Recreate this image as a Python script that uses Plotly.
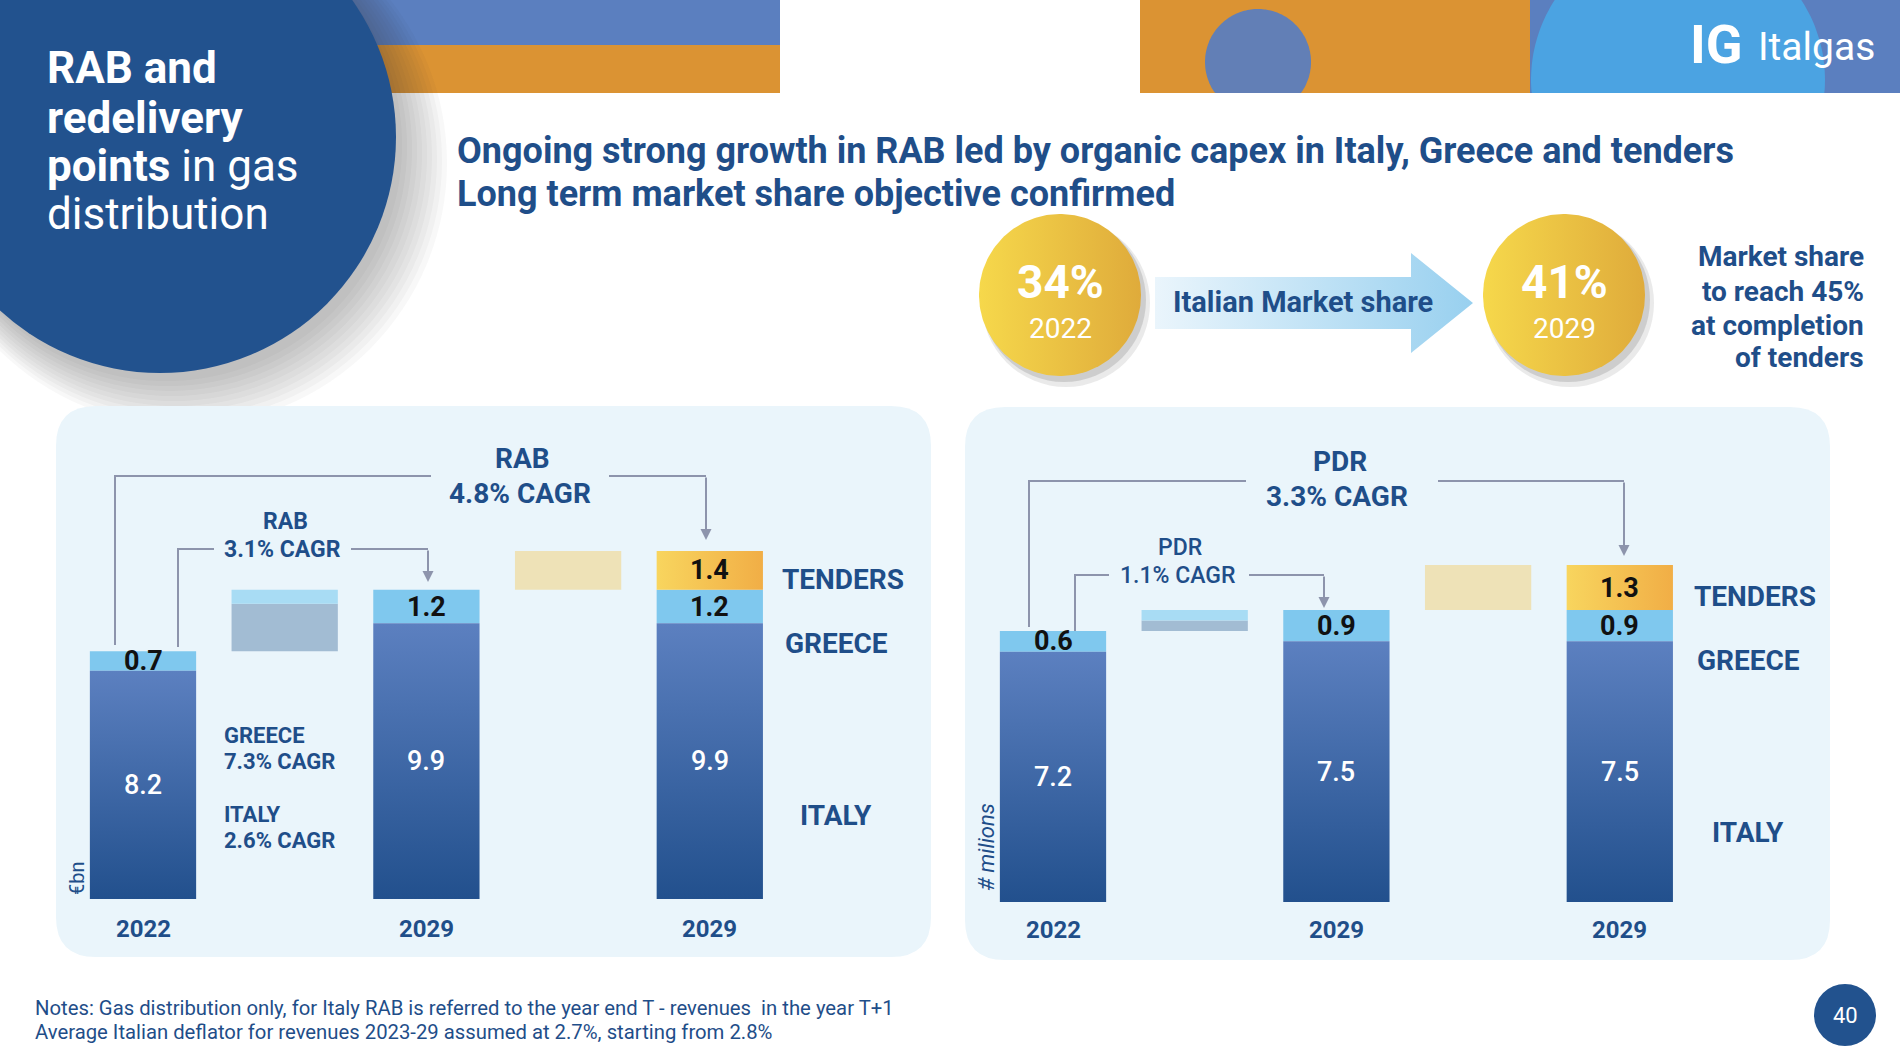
import numpy as np
import plotly.graph_objects as go

W, H = 1900, 1064
FONT = "Roboto"
NAVY = "#22528E"
TXT = "#1F4E89"
GREY = "#8D94AC"

# ---------------- data ----------------
categories = ["2022", "2029", "2029"]
rab_italy = [8.2, 9.9, 9.9]
rab_greece = [0.7, 1.2, 1.2]
rab_tenders = [0.0, 0.0, 1.4]
pdr_italy = [7.2, 7.5, 7.5]
pdr_greece = [0.6, 0.9, 0.9]
pdr_tenders = [0.0, 0.0, 1.3]
segment_names = ["TENDERS", "GREECE", "ITALY"]
share_values = ["34%", "41%"]
share_years = ["2022", "2029"]
rab_cagr = ["RAB", "4.8% CAGR", "RAB", "3.1% CAGR"]
pdr_cagr = ["PDR", "3.3% CAGR", "PDR", "1.1% CAGR"]
rab_side_notes = ["GREECE", "7.3% CAGR", "ITALY", "2.6% CAGR"]

fig = go.Figure()
shapes = []
ann = []


def rect(x0, y0, x1, y1, color):
    shapes.append(dict(type="rect", xref="x", yref="y", x0=x0, y0=y0, x1=x1, y1=y1,
                       fillcolor=color, line=dict(width=0), layer="below"))


def circ(cx, cy, r, color):
    shapes.append(dict(type="circle", xref="x", yref="y", x0=cx - r, x1=cx + r, y0=cy - r, y1=cy + r,
                       fillcolor=color, line=dict(width=0), layer="below"))


def poly_path(xs, ys):
    return "M " + " L ".join(f"{x:.1f},{y:.1f}" for x, y in zip(xs, ys)) + " Z"


def path(p, fill, lw=0, lc="rgba(0,0,0,0)"):
    shapes.append(dict(type="path", xref="x", yref="y", path=p, fillcolor=fill,
                       line=dict(width=lw, color=lc), layer="below"))


def rounded_rect(x0, y0, x1, y1, r):
    return (f"M {x0+r},{y0} L {x1-r},{y0} Q {x1},{y0} {x1},{y0+r} L {x1},{y1-r} Q {x1},{y1} {x1-r},{y1} "
            f"L {x0+r},{y1} Q {x0},{y1} {x0},{y1-r} L {x0},{y0+r} Q {x0},{y0} {x0+r},{y0} Z")


def text(x, y, s, size, color=TXT, bold=False, xanchor="center", ref=("x", "y"), angle=0, weight=None):
    f = dict(family=FONT, size=size, color=color)
    if weight is not None:
        f["weight"] = weight
    elif bold:
        f["weight"] = 700
    ann.append(dict(x=x, y=y, xref=ref[0], yref=ref[1], text=s, showarrow=False, font=f,
                    xanchor=xanchor, yanchor="middle", textangle=angle, align="left"))


# ---------------- header decorations ----------------
rect(300, 0, 780, 45, "#5B7FBF")
rect(300, 45, 780, 93, "#DB9333")
rect(1140, 0, 1530, 93, "#DB9333")
t = np.linspace(0, 2 * np.pi, 200)
cx_, cy_ = 1258 + 53 * np.cos(t), 62 + 53 * np.sin(t)
path(poly_path(cx_, np.minimum(cy_, 93)), "#627FB6")
rect(1530, 0, 1900, 93, "#5B7FBF")
bx, by = 1678 + 147 * np.cos(t), 80 + 147 * np.sin(t)
path(poly_path(np.maximum(bx, 1530), np.clip(by, -5, 93)), "#4BA3E2")

# title circle with soft shadow
for i in range(10):
    circ(166 + 2 * i, 145 + 2 * i, 236 + 3 * i, "rgba(60,60,60,0.035)")
circ(160, 137, 236, NAVY)

# panels
path(rounded_rect(56, 406, 931, 957, 40), "#EAF5FB")
path(rounded_rect(965, 407, 1830, 960, 40), "#EAF5FB")

# gold circle shadows
for cx in (1060, 1564):
    circ(cx + 6, 303, 84, "rgba(80,80,80,0.12)")
    circ(cx + 4, 300, 82, "rgba(80,80,80,0.18)")

# page number circle
circ(1845, 1015, 31, NAVY)

# brackets
for p in ["M 115,645 L 115,476 L 431,476", "M 609,476 L 706,476",
          "M 178,647 L 178,549 L 214,549", "M 351,549 L 428,549",
          "M 1029,627 L 1029,481 L 1246,481", "M 1438,481 L 1624,481",
          "M 1075,632 L 1075,575 L 1109,575", "M 1249,575 L 1324,575"]:
    path(p, "rgba(0,0,0,0)", 2, GREY)
for (xx, y0, y1) in [(706, 476, 540), (428, 549, 582), (1624, 481, 556), (1324, 575, 608)]:
    ann.append(dict(x=xx, y=y1, xref="x", yref="y", ax=0, ay=-(y1 - y0), text="", showarrow=True,
                    arrowhead=2, arrowsize=1.1, arrowwidth=2, arrowcolor=GREY))

# gold circles (gradient) and arrow on page axis
for cx in (1060, 1564):
    xs, ys = cx + 81 * np.cos(t), 295 + 81 * np.sin(t)
    fig.add_trace(go.Scatter(x=xs, y=ys, mode="lines", fill="toself", line=dict(width=0),
                             fillgradient=dict(type="horizontal", colorscale=[[0, "#F6D84B"], [1, "#DFAB3B"]]),
                             hoverinfo="skip", showlegend=False, xaxis="x", yaxis="y"))
ax_ = [1155, 1411, 1411, 1473, 1411, 1411, 1155, 1155]
ay_ = [277, 277, 253, 303, 353, 329, 329, 277]
fig.add_trace(go.Scatter(x=ax_, y=ay_, mode="lines", fill="toself", line=dict(width=0),
                         fillgradient=dict(type="horizontal", colorscale=[[0, "#EAF5FC"], [1, "#98D0EF"]]),
                         hoverinfo="skip", showlegend=False, xaxis="x", yaxis="y"))


# ---------------- charts ----------------
def add_chart(xa, ya, italy, greece, tenders, label_y):
    pos = [0, 2, 4]
    bw = 0.75
    for p, v in zip(pos, italy):
        fig.add_trace(go.Scatter(x=[p - bw / 2, p + bw / 2, p + bw / 2, p - bw / 2, p - bw / 2],
                                 y=[0, 0, v, v, 0], mode="lines", fill="toself", line=dict(width=0),
                                 fillgradient=dict(type="vertical", colorscale=[[0, "#22508D"], [1, "#5C80C0"]]),
                                 hoverinfo="skip", showlegend=False, xaxis=xa, yaxis=ya))
    fig.add_trace(go.Bar(x=pos, y=greece, base=italy, width=bw, marker=dict(color="#7FC8EE", line=dict(width=0)),
                         hoverinfo="skip", showlegend=False, xaxis=xa, yaxis=ya))
    b = italy[2] + greece[2]
    fig.add_trace(go.Scatter(x=[4 - bw / 2, 4 + bw / 2, 4 + bw / 2, 4 - bw / 2, 4 - bw / 2],
                             y=[b, b, b + tenders[2], b + tenders[2], b], mode="lines", fill="toself",
                             line=dict(width=0),
                             fillgradient=dict(type="horizontal", colorscale=[[0, "#F8D55E"], [1, "#F1AE46"]]),
                             hoverinfo="skip", showlegend=False, xaxis=xa, yaxis=ya))
    # bridges
    fig.add_trace(go.Bar(x=[1], y=[italy[1] - italy[0]], base=[italy[0] + greece[0]], width=bw,
                         marker=dict(color="#A2BCD3", line=dict(width=0)), hoverinfo="skip", showlegend=False,
                         xaxis=xa, yaxis=ya))
    fig.add_trace(go.Bar(x=[1], y=[greece[1] - greece[0]], base=[italy[1] + greece[0]], width=bw,
                         marker=dict(color="#A8DCF4", line=dict(width=0)), hoverinfo="skip", showlegend=False,
                         xaxis=xa, yaxis=ya))
    fig.add_trace(go.Bar(x=[3], y=[tenders[2]], base=[italy[1] + greece[1]], width=bw,
                         marker=dict(color="#EEE2B7", line=dict(width=0)), hoverinfo="skip", showlegend=False,
                         xaxis=xa, yaxis=ya))
    # value labels
    for p, v, g, tt in zip(pos, italy, greece, tenders):
        text(p, v / 2, f"{v:.1f}", 27, "white", ref=(xa, ya), weight=500)
        text(p, v + g / 2, f"{g:.1f}", 27, "#111111", bold=True, ref=(xa, ya))
        if tt > 0:
            text(p, v + g + tt / 2, f"{tt:.1f}", 27, "#111111", bold=True, ref=(xa, ya))
    for p, c in zip(pos, categories):
        ann.append(dict(x=p, y=label_y, xref=xa, yref="y", text=c, showarrow=False,
                        font=dict(family=FONT, size=24, color=TXT, weight=700), yanchor="middle"))


add_chart("x2", "y2", rab_italy, rab_greece, rab_tenders, 929)
add_chart("x3", "y3", pdr_italy, pdr_greece, pdr_tenders, 930)

# ---------------- texts ----------------
text(45, 68, "RAB and", 44, "white", bold=True, xanchor="left")
text(45, 118, "redelivery", 44, "white", bold=True, xanchor="left")
text(45, 166, "<b>points</b> in gas", 44, "white", xanchor="left")
text(45, 214, "distribution", 44, "white", xanchor="left")

text(455, 151, "Ongoing strong growth in RAB led by organic capex in Italy, Greece and tenders", 36,
     bold=True, xanchor="left")
text(455, 194, "Long term market share objective confirmed", 36, bold=True, xanchor="left")

for cx, v, yr in zip((1060, 1564), share_values, share_years):
    text(cx, 282, v, 46, "white", bold=True)
    text(cx, 328, yr, 28, "white")
text(1303, 302, "Italian Market share", 29, bold=True)
for yy, s in zip((256, 291, 325, 357), ["Market share", "to reach 45%", "at completion", "of tenders"]):
    text(1866, yy, s, 28, bold=True, xanchor="right")

# logo
text(1688, 44, "IG", 54, "white", bold=True, xanchor="left")
text(1756, 47, "Italgas", 39, "white", xanchor="left")

# left chart texts
text(522, 458, rab_cagr[0], 28, bold=True)
text(520, 493, rab_cagr[1], 28, bold=True)
text(285, 521, rab_cagr[2], 23, bold=True)
text(282, 549, rab_cagr[3], 23, bold=True)
for yy, s in zip((735, 761, 814, 840), rab_side_notes):
    text(222, yy, s, 22, bold=True, xanchor="left")
text(843, 579, segment_names[0], 28, bold=True)
text(836, 643, segment_names[1], 28, bold=True)
text(836, 815, segment_names[2], 28, bold=True)
text(77, 878, "€bn", 20, angle=-90)

# right chart texts
text(1340, 461, pdr_cagr[0], 28, bold=True)
text(1337, 496, pdr_cagr[1], 28, bold=True)
text(1180, 547, pdr_cagr[2], 23, weight=500)
text(1177, 575, pdr_cagr[3], 23, weight=500)
text(1755, 596, segment_names[0], 28, bold=True)
text(1748, 660, segment_names[1], 28, bold=True)
text(1748, 832, segment_names[2], 28, bold=True)
text(986, 847, "<i># milions</i>", 22, angle=-90)

# footer
text(33, 1008, "Notes: Gas distribution only, for Italy RAB is referred to the year end T - revenues  in the year T+1",
     20.3, xanchor="left")
text(33, 1032, "Average Italian deflator for revenues 2023-29 assumed at 2.7%, starting from 2.8%", 20.3,
     xanchor="left")
text(1845, 1015, "40", 22, "white")

# ---------------- axes ----------------
U = 141.7


def xr(px0, px1, c0):
    return [(px0 - c0) / U, (px1 - c0) / U]


hidden = dict(visible=False, showgrid=False, zeroline=False, fixedrange=True)
fig.update_layout(
    width=W, height=H, margin=dict(l=0, r=0, t=0, b=0),
    paper_bgcolor="white", plot_bgcolor="rgba(0,0,0,0)",
    barmode="overlay", hovermode=False, showlegend=False,
    xaxis=dict(domain=[0, 1], range=[0, W], anchor="y", **hidden),
    yaxis=dict(domain=[0, 1], range=[H, 0], anchor="x", **hidden),
    xaxis2=dict(domain=[56 / W, 931 / W], range=xr(56, 931, 143.0), anchor="y2", **hidden),
    yaxis2=dict(domain=[(H - 899) / H, (H - 406) / H], range=[0, (899 - 406) / 27.85], anchor="x2", **hidden),
    xaxis3=dict(domain=[965 / W, 1830 / W], range=xr(965, 1830, 1053.0), anchor="y3", **hidden),
    yaxis3=dict(domain=[(H - 902) / H, (H - 407) / H], range=[0, (902 - 407) / 34.75], anchor="x3", **hidden),
    shapes=shapes, annotations=ann,
)

fig.write_html("out.html", config={"displayModeBar": False})
